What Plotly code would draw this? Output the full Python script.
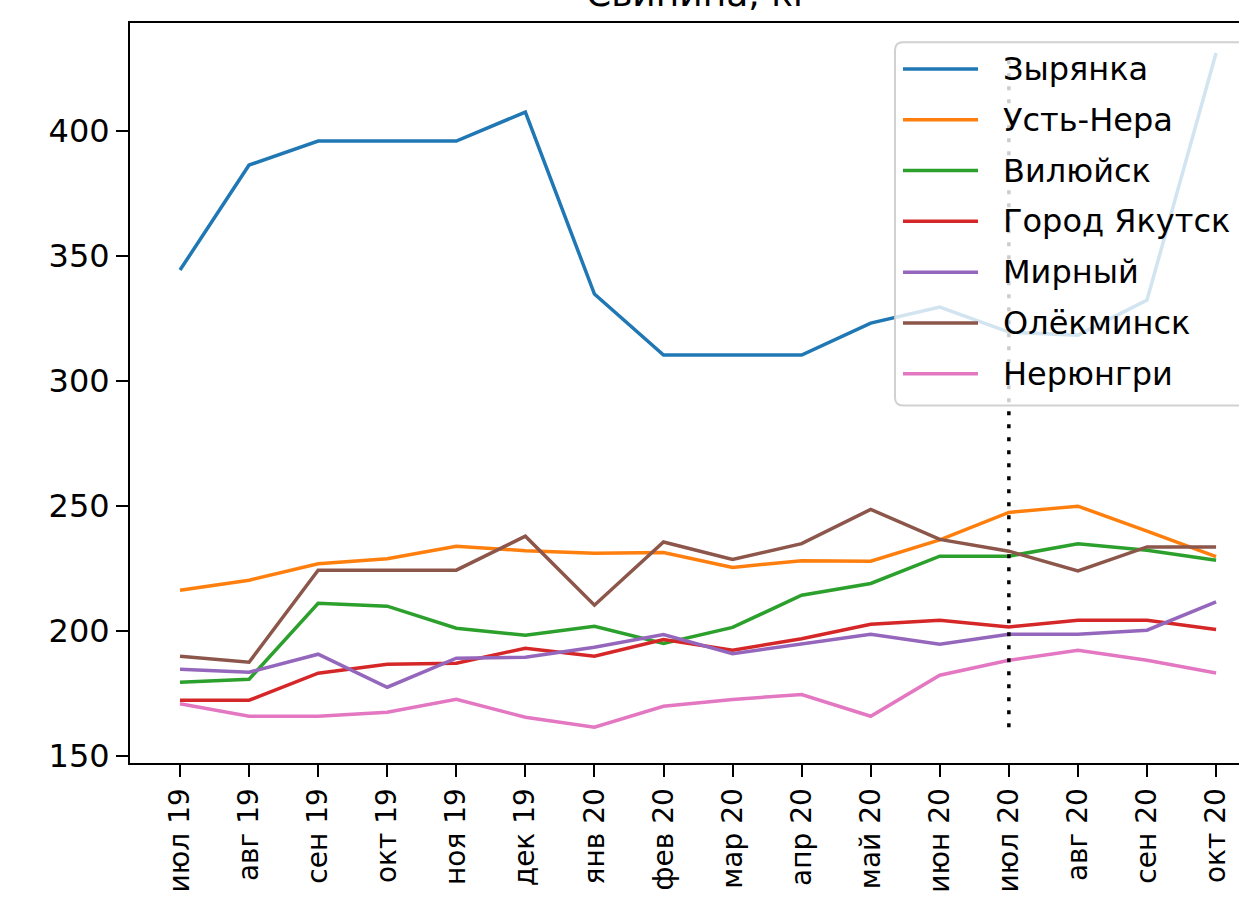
import plotly.graph_objects as go

# ---------------- data ----------------
months = ["июл 19", "авг 19", "сен 19", "окт 19", "ноя 19", "дек 19",
          "янв 20", "фев 20", "мар 20", "апр 20", "май 20", "июн 20",
          "июл 20", "авг 20", "сен 20", "окт 20"]

zyryanka = [344.4, 386.4, 396.0, 396.0, 396.0, 407.6, 334.8, 310.4,
            310.4, 310.4, 323.2, 329.6, 319.6, 318.4, 332.4, 431.2]
ust_nera = [216.4, 220.4, 227.0, 229.0, 234.0, 232.2, 231.2, 231.5,
            225.5, 228.2, 228.0, 236.5, 247.5, 250.0, 240.0, 229.8]
vilyuysk = [179.6, 180.8, 211.2, 210.0, 201.2, 198.4, 202.0, 195.1,
            201.5, 214.4, 219.1, 230.0, 230.0, 235.0, 232.4, 228.4]
yakutsk = [172.4, 172.4, 183.2, 186.8, 187.2, 193.2, 190.0, 196.7,
           192.4, 197.0, 202.8, 204.4, 201.7, 204.4, 204.4, 200.7]
mirny = [184.8, 183.6, 190.8, 177.6, 189.2, 189.6, 193.6, 198.7,
         191.0, 195.0, 198.8, 194.8, 198.8, 198.8, 200.4, 211.7]
olekminsk = [190.0, 187.6, 224.4, 224.4, 224.4, 238.0, 210.4, 235.7,
             228.7, 235.0, 248.7, 236.7, 232.0, 224.1, 233.7, 233.7]
neryungri = [171.0, 166.0, 166.0, 167.6, 172.8, 165.6, 161.6, 170.0,
             172.7, 174.7, 166.0, 182.4, 188.4, 192.4, 188.4, 183.3]

series_names = ["Зырянка", "Усть-Нера", "Вилюйск", "Город Якутск",
                "Мирный", "Олёкминск", "Нерюнгри"]
series_values = [zyryanka, ust_nera, vilyuysk, yakutsk, mirny, olekminsk, neryungri]
colors = ["#1f77b4", "#ff7f0e", "#2ca02c", "#d62728", "#9467bd", "#8c564b", "#e377c2"]

marker_month = "июл 20"
title_text = "Свинина, кг"

# ---------------- layout geometry ----------------
OFF = 0  # page body margin removed via post_script
W, H = 1239, 912
L, R, T, B = 130, 0, 22.5, 149.3
PW = W - L - R
PH = H - T - B
FONT = "DejaVu Sans"


def px(x):  # page pixel -> paper
    return (x - OFF - L) / PW


def py(y):  # page pixel -> paper
    return (H - B + OFF - y) / PH


fig = go.Figure()

for name, vals, col in zip(series_names, series_values, colors):
    fig.add_trace(go.Scatter(x=months, y=vals, mode="lines", name=name,
                             line=dict(color=col, width=3.5),
                             showlegend=False))

all_vals = [v for s in series_values for v in s]
fig.add_trace(go.Scatter(x=[marker_month, marker_month],
                         y=[min(all_vals), max(all_vals)],
                         mode="lines", showlegend=False,
                         line=dict(color="black", width=3.5, dash="4px,9px")))

# ---------------- custom legend (matplotlib-like) ----------------
shapes = []
bx0, by0, by1, bx1, r = 895, 41.7, 405, 1300, 8
rx, ry = r / PW, r / PH
x0p, x1p, y0p, y1p = px(bx0), px(bx1), py(by1), py(by0)
path = (f"M {x0p + rx} {y1p} L {x1p} {y1p} L {x1p} {y0p} L {x0p + rx} {y0p} "
        f"Q {x0p} {y0p} {x0p} {y0p + ry} L {x0p} {y1p - ry} "
        f"Q {x0p} {y1p} {x0p + rx} {y1p} Z")
shapes.append(dict(type="path", xref="paper", yref="paper", path=path,
                   fillcolor="rgba(255,255,255,0.8)",
                   line=dict(color="rgba(204,204,204,0.9)", width=2),
                   layer="above"))

annotations = []
row0, pitch = 68.5, 50.8
for i, (name, col) in enumerate(zip(series_names, colors)):
    yy = row0 + i * pitch
    shapes.append(dict(type="line", xref="paper", yref="paper",
                       x0=px(903), x1=px(978), y0=py(yy), y1=py(yy),
                       line=dict(color=col, width=3.5), layer="above"))
    annotations.append(dict(xref="paper", yref="paper", x=px(1002), y=py(yy),
                            xanchor="left", yanchor="middle", text=name,
                            showarrow=False, borderpad=0,
                            font=dict(family=FONT, size=32, color="black")))

# title (mostly above the visible area, as in the reference)
annotations.append(dict(xref="paper", yref="paper", x=px(699), y=py(14),
                        xanchor="center", yanchor="bottom", text=title_text,
                        showarrow=False, borderpad=0,
                        font=dict(family=FONT, size=36, color="black")))

fig.update_layout(
    width=W, height=H,
    margin=dict(l=L, r=R, t=T, b=B, autoexpand=False),
    paper_bgcolor="white", plot_bgcolor="white",
    font=dict(family=FONT, size=32, color="black"),
    showlegend=False,
    shapes=shapes, annotations=annotations,
    xaxis=dict(type="category", range=[-0.724, 15.332],
               showgrid=False, zeroline=False,
               showline=True, linecolor="black", linewidth=2, mirror=True,
               ticks="outside", ticklen=12, tickwidth=2, tickcolor="black",
               tickangle=-90, tickfont=dict(family=FONT, size=28, color="black")),
    yaxis=dict(range=[147.3, 443.2], tick0=150, dtick=50,
               showgrid=False, zeroline=False,
               showline=True, linecolor="black", linewidth=2, mirror=False,
               ticks="outside", ticklen=12, tickwidth=2, tickcolor="black",
               tickfont=dict(family=FONT, size=32, color="black")),
)

fig.write_html(
    "out.html",
    config={"displayModeBar": False},
    post_script="document.body.style.margin='0';document.body.style.overflow='hidden';",
)
